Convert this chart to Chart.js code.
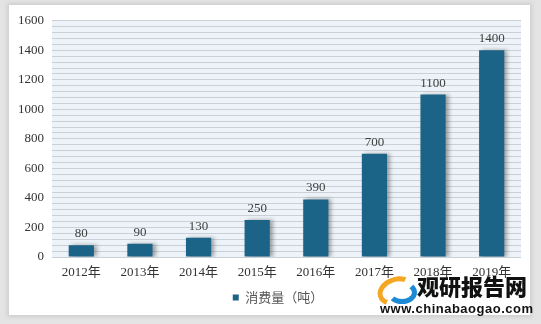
<!DOCTYPE html>
<html><head><meta charset="utf-8">
<script src="https://cdn.jsdelivr.net/npm/chart.js@4/dist/chart.umd.min.js"></script>
<style>
html,body{margin:0;padding:0;}
body{width:541px;height:324px;background:#e4e4e4;position:relative;overflow:hidden;}
#card{position:absolute;left:9px;top:5px;width:521px;height:310px;background:#fff;box-shadow:0 0 4px 2px #cfcfcf;}
#wrap{position:absolute;left:0;top:0;width:521px;height:310px;}
#logo{position:absolute;left:375px;top:275px;width:160px;height:44px;font-family:"Noto Sans CJK SC",sans-serif;white-space:nowrap;}
#logo .t{position:absolute;left:42px;top:-6px;font-size:22px;font-weight:900;color:#111;}
#logo .u{position:absolute;left:5px;top:26px;font-size:13px;font-weight:bold;color:#111;font-family:"Liberation Sans",sans-serif;letter-spacing:0.5px;}
#logo .i1{position:absolute;left:2px;top:2px;width:28px;height:18px;border-radius:50%;border:5px solid #f5a623;border-right-color:transparent;border-bottom-color:transparent;transform:rotate(-20deg);}
#logo .i2{position:absolute;left:12px;top:6px;width:20px;height:13px;border-radius:50%;border:5px solid #1d8ad6;border-left-color:transparent;border-top-color:transparent;}
</style></head>
<body>
<div id="card"><div id="wrap"><canvas id="c"></canvas></div></div>
<div id="logo"><div class="i1"></div><div class="i2"></div><div class="t">观研报告网</div><div class="u">www.chinabaogao.com</div></div>
<script>
const categories = ["2012年","2013年","2014年","2015年","2016年","2017年","2018年","2019年"];
const consumption = [80,90,130,250,390,700,1100,1400];
const seriesName = "消费量（吨）";
const yMin = 0, yMax = 1600, yLabelStep = 200, stripeStep = 40;

const bgPlugin = {
  id:'bgPlugin',
  beforeDraw(chart){
    const {ctx, chartArea:a} = chart;
    ctx.save();
    ctx.fillStyle = '#edf3f8';
    ctx.fillRect(a.left, a.top, a.right-a.left, a.bottom-a.top);
    ctx.restore();
  },
  afterLayout(chart){
    const lg = chart.legend;
    if (lg) { lg.left += 13; lg.right += 13; }
  }
};
const shadowPlugin = {
  id:'shadowPlugin',
  beforeDatasetsDraw(chart){
    const ctx = chart.ctx;
    ctx.save();
    ctx.shadowColor = 'rgba(60,60,60,0.45)';
    ctx.shadowBlur = 4;
    ctx.shadowOffsetX = 3;
    ctx.shadowOffsetY = 0;
  },
  afterDatasetsDraw(chart){
    chart.ctx.restore();
    const ctx = chart.ctx;
    const meta = chart.getDatasetMeta(0);
    ctx.save();
    ctx.font = '13px "Liberation Serif", serif';
    ctx.fillStyle = '#404040';
    ctx.textAlign = 'center';
    ctx.textBaseline = 'bottom';
    meta.data.forEach((el,i)=>{
      ctx.fillText(String(chart.data.datasets[0].data[i]), el.x, el.y - 5);
    });
    ctx.restore();
  }
};

new Chart(document.getElementById('c'), {
  type:'bar',
  data:{labels:categories, datasets:[{label:seriesName, data:consumption, backgroundColor:'#1c6487', borderWidth:0, categoryPercentage:1, barPercentage:0.43}]},
  options:{
    responsive:true, maintainAspectRatio:false, animation:false,
    layout:{padding:{left:0,right:9,top:10,bottom:1}},
    plugins:{
      legend:{position:'bottom', labels:{boxWidth:6, boxHeight:6, padding:10, color:'#555', font:{size:13, family:'"Noto Sans CJK SC", sans-serif'}}},
      tooltip:{enabled:false}
    },
    scales:{
      x:{grid:{display:false, drawTicks:false}, border:{display:false}, ticks:{color:'#333', padding:8, font:{size:13, family:'"Liberation Serif", "Noto Sans CJK SC", serif'}},
         afterFit(s){ s.height = 24; }},
      y:{min:yMin, max:yMax, border:{display:false},
         grid:{color:'#c9d0d6', lineWidth:1, drawTicks:false},
         ticks:{stepSize:stripeStep, autoSkip:false, padding:8, color:'#333', font:{size:13, family:'"Liberation Serif", serif'},
                callback:(v)=> (v % yLabelStep === 0 ? String(v) : '')},
         afterFit(s){ s.width = 43; }}
    }
  },
  plugins:[bgPlugin, shadowPlugin]
});
</script>
</body></html>
